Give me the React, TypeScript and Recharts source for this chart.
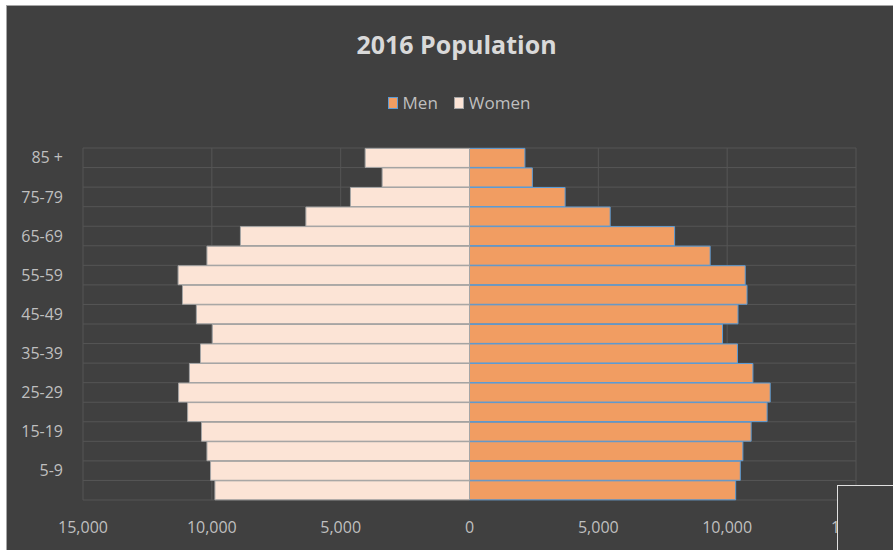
import React from 'react';
import { BarChart, Bar, XAxis, YAxis, CartesianGrid, Legend } from 'recharts';

const ageGroups = [
  '85 +', '80-84', '75-79', '70-74', '65-69', '60-64', '55-59', '50-54', '45-49',
  '40-44', '35-39', '30-34', '25-29', '20-24', '15-19', '10-14', '5-9', '0-4',
];
const men = [
  2150, 2440, 3710, 5460, 7960, 9340, 10700, 10770, 10420,
  9820, 10400, 11000, 11670, 11550, 10930, 10610, 10510, 10330,
];
const women = [
  4050, 3390, 4620, 6350, 8890, 10190, 11310, 11140, 10600,
  9980, 10440, 10870, 11290, 10940, 10400, 10190, 10050, 9880,
];
const xTicks = [-15000, -10000, -5000, 0, 5000, 10000, 15000];

const chartData = ageGroups.map((age, i) => ({
  age,
  Men: men[i],
  Women: -women[i],
}));

const FONT = '"Open Sans", sans-serif';
const TEXT = '#BFBFBF';

const fmt = (v: number) => Math.abs(v).toLocaleString('en-US');

const legendItems = [
  { name: 'Men', fill: '#F19D62', stroke: '#5B9BD5' },
  { name: 'Women', fill: '#FCE4D6', stroke: '#A5A5A5' },
];

const LegendContent = () => (
  <div style={{ display: 'flex', justifyContent: 'center', gap: 16, fontFamily: FONT, fontSize: 17, color: TEXT }}>
    {legendItems.map((it) => (
      <div key={it.name} style={{ display: 'flex', alignItems: 'center', gap: 5 }}>
        <span
          style={{
            display: 'inline-block',
            width: 8,
            height: 10,
            background: it.fill,
            border: `1px solid ${it.stroke}`,
          }}
        />
        <span>{it.name}</span>
      </div>
    ))}
  </div>
);

const App: React.FC = () => {
  const n = ageGroups.length;
  return (
    <div style={{ position: 'absolute', left: 0, top: 0, width: 893, height: 550, overflow: 'hidden', background: '#fff' }}>
      <div
        style={{
          position: 'absolute',
          left: 6,
          top: 5,
          width: 920,
          height: 580,
          background: '#404040',
          border: '1px solid #A6A6A6',
        }}
      />
      <div
        style={{
          position: 'absolute',
          left: 0,
          top: 27,
          width: 913,
          textAlign: 'center',
          fontFamily: FONT,
          fontWeight: 700,
          fontSize: 25,
          color: '#D9D9D9',
        }}
      >
        2016 Population
      </div>
      <div style={{ position: 'absolute', left: 0, top: 0 }}>
        <BarChart
          width={893}
          height={550}
          data={chartData}
          layout="vertical"
          stackOffset="sign"
          barCategoryGap="2%"
          margin={{ top: 148, right: 37, bottom: 20, left: 13 }}
        >
          <CartesianGrid
            stroke="#555555"
            horizontalCoordinatesGenerator={({ offset }: any) =>
              Array.from({ length: n + 1 }, (_, i) => offset.top + (i * offset.height) / n)
            }
          />
          <XAxis
            type="number"
            domain={[-15000, 15000]}
            ticks={xTicks}
            tickFormatter={fmt}
            axisLine={false}
            tickLine={false}
            tickMargin={16}
            tick={{ fill: TEXT, fontFamily: FONT, fontSize: 16 }}
          />
          <YAxis
            type="category"
            dataKey="age"
            width={70}
            interval={1}
            axisLine={false}
            tickLine={false}
            tickMargin={14}
            tick={{ fill: TEXT, fontFamily: FONT, fontSize: 16 }}
          />
          <Legend
            verticalAlign="middle"
            align="center"
            wrapperStyle={{ top: 91, left: 0, width: 918 }}
            content={<LegendContent />}
          />
          <Bar dataKey="Men" stackId="pop" fill="#F19D62" stroke="#5B9BD5" strokeWidth={1} isAnimationActive={false} />
          <Bar dataKey="Women" stackId="pop" fill="#FCE4D6" stroke="#A5A5A5" strokeWidth={1} isAnimationActive={false} />
        </BarChart>
      </div>
      <div
        style={{
          position: 'absolute',
          left: 837,
          top: 485,
          width: 100,
          height: 100,
          background: '#404040',
          border: '1px solid #E0E0E0',
        }}
      />
    </div>
  );
};

export default App;
